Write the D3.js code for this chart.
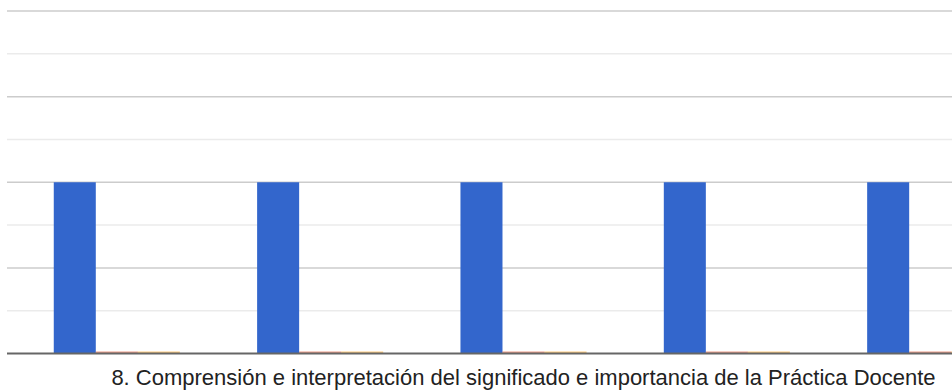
<!DOCTYPE html>
<html>
<head>
<meta charset="utf-8">
<script src="https://cdn.jsdelivr.net/npm/d3@7"></script>
<style>
  body { margin: 0; background: #fff; }
  svg { display: block; }
</style>
</head>
<body>
<div id="chart"></div>
<script>
const categories = ["A", "B", "C", "D", "E"];
const seriesNames = ["Serie 1", "Serie 2", "Serie 3"];
const seriesValues = [
  [2, 2, 2, 2, 2],
  [0, 0, 0, 0, 0],
  [0, 0, 0, 0, 0]
];
const majorTicks = [0, 1, 2, 3, 4];
const minorTicks = [0.5, 1.5, 2.5, 3.5];
const colors = ["#3366cc", "#dc3912", "#ff9900"];
const axisTitle = "8. Comprensión e interpretación del significado e importancia de la Práctica Docente";

const width = 952, height = 392;
const plotLeft = 7, plotRight = 1040, plotTop = 11, plotBottom = 353.5;

const svg = d3.select("#chart").append("svg")
    .attr("width", width)
    .attr("height", height);

// Scales
const x = d3.scaleBand()
    .domain(categories)
    .range([plotLeft, plotRight])
    .paddingInner(0.38)
    .paddingOuter(0.23);

const xs = d3.scaleBand()
    .domain(seriesNames)
    .range([0, x.bandwidth()]);

const y = d3.scaleLinear()
    .domain([0, 4])
    .range([plotBottom, plotTop]);

// Gridlines
svg.append("g")
   .selectAll("line")
   .data(minorTicks)
   .join("line")
   .attr("x1", plotLeft).attr("x2", width)
   .attr("y1", d => y(d)).attr("y2", d => y(d))
   .attr("stroke", "#ebebeb")
   .attr("stroke-width", 1.5);

svg.append("g")
   .selectAll("line")
   .data(majorTicks.filter(d => d > 0))
   .join("line")
   .attr("x1", plotLeft).attr("x2", width)
   .attr("y1", d => y(d)).attr("y2", d => y(d))
   .attr("stroke", "#cccccc")
   .attr("stroke-width", 1.5);

// Bars
const groups = svg.append("g")
   .selectAll("g")
   .data(categories)
   .join("g")
   .attr("transform", d => `translate(${x(d)},0)`);

groups.selectAll("rect")
   .data((c, i) => seriesNames.map((s, j) => ({ s, v: seriesValues[j][i], color: colors[j] })))
   .join("rect")
   .attr("x", d => xs(d.s))
   .attr("width", xs.bandwidth())
   .attr("y", d => Math.min(y(d.v), y(0) - 2))
   .attr("height", d => Math.max(y(0) - y(d.v), 2))
   .attr("fill", d => d.color)
   .attr("opacity", d => d.v === 0 ? 0.5 : 1);

// Baseline
svg.append("line")
   .attr("x1", plotLeft).attr("x2", width)
   .attr("y1", y(0)).attr("y2", y(0))
   .attr("stroke", "#666666")
   .attr("stroke-width", 2);

// Axis title
svg.append("text")
   .attr("x", (plotLeft + plotRight) / 2)
   .attr("y", 384.5)
   .attr("text-anchor", "middle")
   .attr("font-family", "Liberation Sans, Arial, sans-serif")
   .attr("font-size", 22)
   .attr("fill", "#222222")
   .text(axisTitle);
</script>
</body>
</html>
